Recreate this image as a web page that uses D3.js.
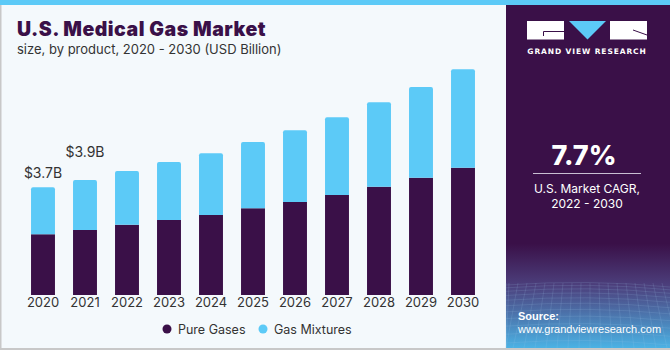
<!DOCTYPE html>
<html>
<head>
<meta charset="utf-8">
<script src="https://cdn.jsdelivr.net/npm/d3@7"></script>
<style>
  html, body { margin: 0; padding: 0; background: #fff; }
  svg { display: block; }
</style>
</head>
<body>
<div id="chart"></div>
<script>
const years = ["2020", "2021", "2022", "2023", "2024", "2025", "2026", "2027", "2028", "2029", "2030"];
const pureGases = [2.09, 2.23, 2.41, 2.58, 2.75, 2.98, 3.20, 3.44, 3.72, 4.03, 4.37];
const gasMixtures = [1.61, 1.72, 1.85, 1.99, 2.12, 2.28, 2.46, 2.67, 2.90, 3.12, 3.39];
const totalLabels = ["$3.7B", "$3.9B"];
const seriesNames = ["Pure Gases", "Gas Mixtures"];

const W = 670, H = 350;
const PURPLE = "#3a1048", BLUE = "#5ccaf7";
const FONT = "Inter, 'Liberation Sans', sans-serif";

const svg = d3.select("#chart").append("svg")
    .attr("width", W)
    .attr("height", H);

const defs = svg.append("defs");
const grad = defs.append("linearGradient")
    .attr("id", "panelGrad")
    .attr("x1", 0).attr("y1", 0).attr("x2", 0).attr("y2", 1);
grad.append("stop").attr("offset", "0%").attr("stop-color", PURPLE);
grad.append("stop").attr("offset", "70%").attr("stop-color", PURPLE);
grad.append("stop").attr("offset", "82%").attr("stop-color", "#4c3f7c");
grad.append("stop").attr("offset", "100%").attr("stop-color", "#4bb2e4");

// background + frame
svg.append("rect").attr("width", W).attr("height", H).attr("fill", "#f4f9fc");
svg.append("rect").attr("x", 0).attr("y", 0).attr("width", 1.5).attr("height", H).attr("fill", "#c8c8c8");
svg.append("rect").attr("x", 0).attr("y", H - 2).attr("width", W).attr("height", 2).attr("fill", "#c8c8c8");

// right panel
svg.append("rect").attr("x", 506).attr("y", 0).attr("width", W - 506).attr("height", H - 2)
    .attr("fill", "url(#panelGrad)");

// faint grid texture in the bottom of the panel
const gridG = svg.append("g").attr("stroke", "#9fc9ea").attr("stroke-opacity", 0.25).attr("stroke-width", 0.6)
    .attr("fill", "none");
for (let i = 0; i < 14; i++) {
    const yy = 285 + i * i * 0.33 + i * 2.5;
    gridG.append("path").attr("d", `M506,${yy} Q588,${yy - 6} 670,${yy + 2}`);
}
for (let i = 0; i < 22; i++) {
    const xx = 500 + i * 9;
    gridG.append("path").attr("d", `M${Math.max(xx, 506)},283 L${Math.max(xx - 20 + i * 2, 506)},348`);
}

// top stripe
svg.append("rect").attr("x", 0).attr("y", 0).attr("width", W).attr("height", 5).attr("fill", BLUE);

// title
svg.append("text")
    .attr("x", 17).attr("y", 36)
    .attr("fill", PURPLE)
    .style("font-family", FONT)
    .style("font-weight", 900)
    .style("font-size", "19.5px")
    .style("letter-spacing", "0.5px")
    .text("U.S. Medical Gas Market");

svg.append("text")
    .attr("x", 17).attr("y", 54)
    .attr("fill", "#333")
    .style("font-family", FONT)
    .style("font-size", "13px")
    .text("size, by product, 2020 - 2030 (USD Billion)");

// scales
const baseY = 295;
const x = d3.scaleBand()
    .domain(years)
    .range([22, 484])
    .paddingInner(0.43)
    .paddingOuter(0.215);

const y = d3.scaleLinear()
    .domain([0, 8])
    .range([baseY, baseY - 232.8]);

const stackData = years.map((yr, i) => ({ year: yr, pure: pureGases[i], mix: gasMixtures[i] }));
const stack = d3.stack().keys(["pure", "mix"])(stackData);
const colors = { pure: PURPLE, mix: BLUE };

const barsG = svg.append("g");
stack.forEach(layer => {
    barsG.selectAll(".bar-" + layer.key)
        .data(layer)
        .enter()
        .append("path")
        .attr("fill", colors[layer.key])
        .attr("d", d => {
            const x0 = x(d.data.year), w = x.bandwidth();
            const y0 = y(d[1]), y1 = y(d[0]);
            const r = layer.key === "mix" ? 2 : 0;
            return `M${x0},${y1} L${x0},${y0 + r} Q${x0},${y0} ${x0 + r},${y0} L${x0 + w - r},${y0} Q${x0 + w},${y0} ${x0 + w},${y0 + r} L${x0 + w},${y1} Z`;
        });
});

// total labels for first two years
const labelGap = [9, 23];
totalLabels.forEach((lbl, i) => {
    svg.append("text")
        .attr("x", x(years[i]) + x.bandwidth() / 2)
        .attr("y", y(pureGases[i] + gasMixtures[i]) - labelGap[i])
        .attr("text-anchor", "middle")
        .attr("fill", "#333")
        .style("font-family", FONT)
        .style("font-size", "14px")
        .text(lbl);
});

// x axis
const xAxis = svg.append("g")
    .attr("transform", `translate(0,${baseY})`)
    .call(d3.axisBottom(x).tickSize(0).tickPadding(3));
xAxis.select(".domain").remove();
xAxis.selectAll("text")
    .attr("fill", "#333")
    .style("font-family", FONT)
    .style("font-size", "13px");

// legend
const legendX = [167, 263];
const legend = svg.append("g");
seriesNames.forEach((name, i) => {
    legend.append("circle")
        .attr("cx", legendX[i]).attr("cy", 329)
        .attr("r", 4.5)
        .attr("fill", i === 0 ? PURPLE : BLUE);
    legend.append("text")
        .attr("x", legendX[i] + 11).attr("y", 333.5)
        .attr("fill", "#333")
        .style("font-family", FONT)
        .style("font-size", "12.5px")
        .text(name);
});

// logo
const logo = svg.append("g");
logo.append("rect").attr("x", 527).attr("y", 21).attr("width", 37).attr("height", 18.5).attr("fill", "#fff");
logo.append("path").attr("d", "M569,21 L606,21 L587.5,39.5 Z").attr("fill", BLUE);
logo.append("rect").attr("x", 610).attr("y", 21).attr("width", 37).attr("height", 18.5).attr("fill", "#fff");
logo.append("path").attr("d", "M543.5,36 L543.5,31.5 L564,31.5").attr("stroke", PURPLE).attr("stroke-width", 1).attr("fill", "none");
logo.append("path").attr("d", "M633,30 L647,35").attr("stroke", PURPLE).attr("stroke-width", 1).attr("fill", "none");
logo.append("text")
    .attr("x", 587).attr("y", 54)
    .attr("text-anchor", "middle")
    .attr("fill", "#fff")
    .style("font-family", "'DejaVu Sans', sans-serif")
    .style("font-weight", "bold")
    .style("font-size", "7.5px")
    .style("letter-spacing", "0.9px")
    .text("GRAND VIEW RESEARCH");

// CAGR
svg.append("text")
    .attr("x", 584).attr("y", 165)
    .attr("text-anchor", "middle")
    .attr("fill", "#fff")
    .style("font-family", FONT)
    .style("font-weight", 800)
    .style("font-size", "27px")
    .text("7.7%");
svg.append("line")
    .attr("x1", 533).attr("x2", 641).attr("y1", 173.5).attr("y2", 173.5)
    .attr("stroke", "#c9bfd3").attr("stroke-width", 1);
["U.S. Market CAGR,", "2022 - 2030"].forEach((t, i) => {
    svg.append("text")
        .attr("x", 587).attr("y", 193 + i * 15)
        .attr("text-anchor", "middle")
        .attr("fill", "#fff")
        .style("font-family", FONT)
        .style("font-size", "12px")
        .text(t);
});

// source
svg.append("text")
    .attr("x", 518).attr("y", 319.5)
    .attr("fill", "#fff")
    .style("font-family", "'Liberation Sans', sans-serif")
    .style("font-weight", 700)
    .style("font-size", "11px")
    .text("Source:");
svg.append("text")
    .attr("x", 518).attr("y", 333)
    .attr("fill", "#fff")
    .style("font-family", "'Liberation Sans', sans-serif")
    .style("font-size", "11px")
    .text("www.grandviewresearch.com");
</script>
</body>
</html>
